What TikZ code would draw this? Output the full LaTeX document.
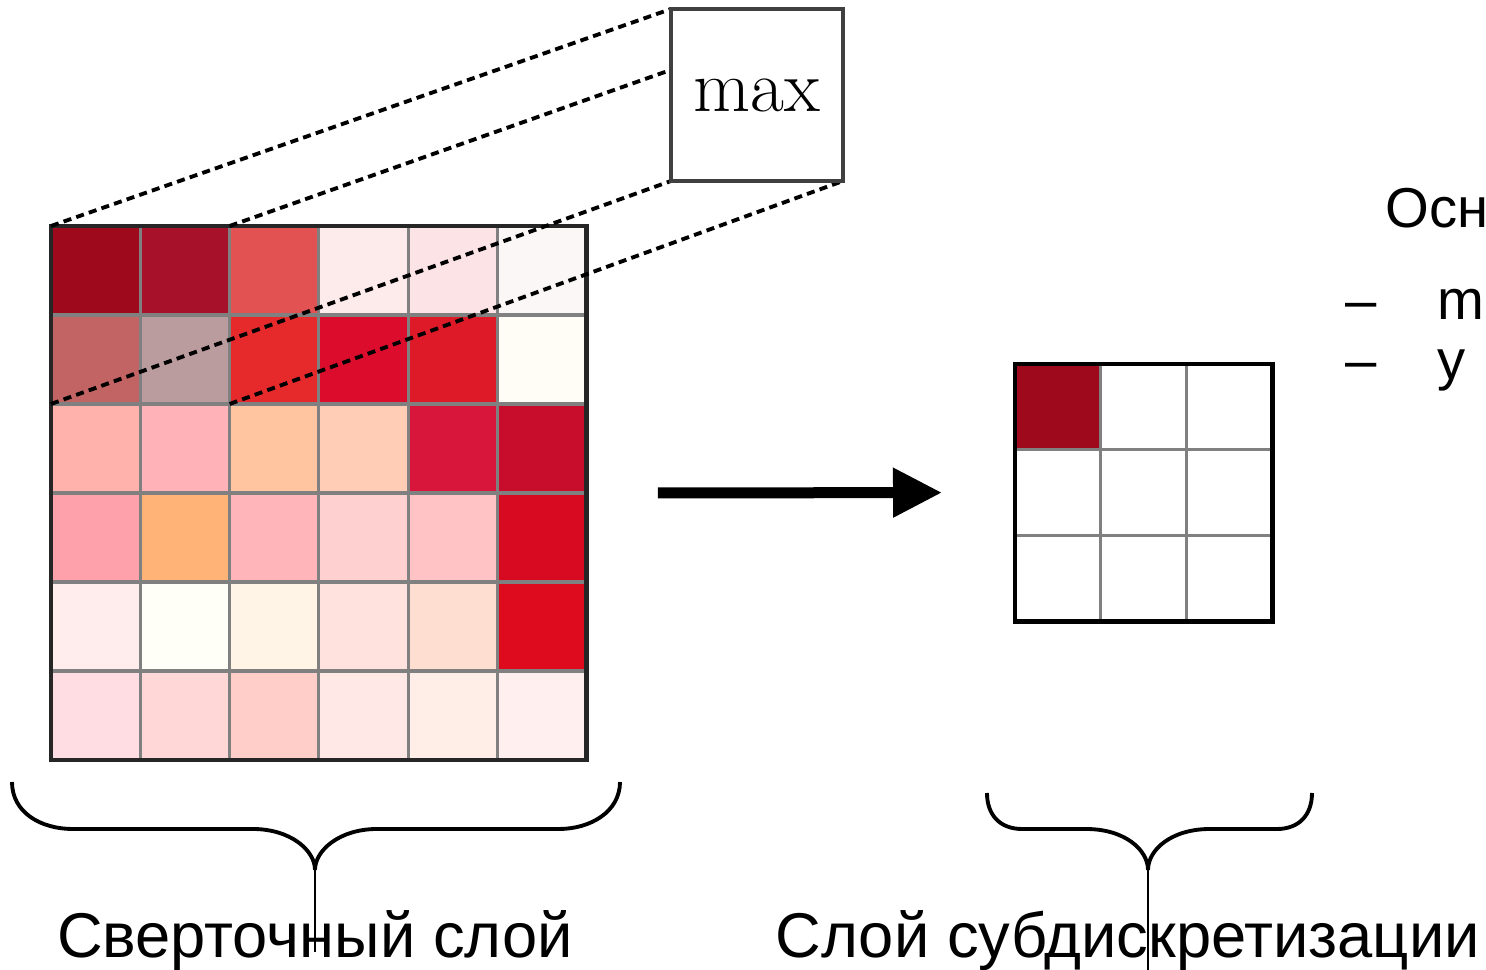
\documentclass[tikz,border=0pt]{standalone}
\usepackage{fontspec}
\setsansfont{Liberation Sans}
\usetikzlibrary{arrows.meta,fit,positioning}

\definecolor{maxred}{HTML}{9E0A1C}
\pgfdeclarelayer{front}
\pgfsetlayers{main,front}

\begin{document}
\begin{tikzpicture}[font=\sffamily,
    cell/.style={draw=gray, line width=0.9pt, minimum width=0.893cm, minimum height=0.89cm, inner sep=0pt, outer sep=0pt},
    pcell/.style={cell, minimum width=0.857cm, minimum height=0.857cm},
    frame/.style={draw=black!85, line width=1.4pt, inner sep=0pt, outer sep=0pt},
    proj/.style={dash pattern=on 2.3pt off 1.5pt, line width=1.1pt},
    bracepath/.style={line width=1.1pt},
    tail/.style={line width=0.4pt},
    caption/.style={font=\sffamily\fontsize{18}{22}\selectfont, anchor=base, inner sep=0pt},
    note/.style={font=\sffamily\fontsize{16}{19}\selectfont, anchor=base west, inner sep=0pt}]
    \useasboundingbox (0,0) rectangle (14.86,9.70);
    % Convolution layer, 6x6 feature map
    \foreach \hex [count=\i from 0] in {
        9E0A1C,A8112A,E35252,FDEAEB,FCE3E6,FCF7F7,
        C26464,BA9C9E,E62A2C,DC0C2C,DE1A28,FFFDF6,
        FFB2AB,FFB3B8,FFC4A0,FFCDB5,D8153A,C80C2C,
        FFA1AA,FFB377,FFB5B9,FFD0D0,FFC3C5,D80A22,
        FFEDEE,FFFEF7,FFF4E5,FFE1DE,FFDED2,DE0A1E,
        FFDDE2,FFD7D7,FFCEC9,FFE8E6,FFEEE8,FFEFEF} {
        \pgfmathtruncatemacro{\r}{\i/6+1}
        \pgfmathtruncatemacro{\c}{mod(\i,6)+1}
        \definecolor{cellc}{HTML}{\hex}
        \node[cell, fill=cellc] (c\r\c) at ({0.51+0.893*(\c-0.5)}, {7.44-0.89*(\r-0.5)}) {};
    }
    \node[frame, fit=(c11) (c66)] (conv) {};
    % max operation
    \begin{pgfonlayer}{front}
        \node[draw=black!75, line width=0.9pt, fill=white, minimum size=1.72cm, outer sep=0pt,
              font=\rmfamily\fontsize{21}{25}\selectfont] (maxbox) at (7.57,8.75) {max};
    \end{pgfonlayer}
    \draw[proj] (c11.north west) -- (maxbox.north west);
    \draw[proj] (c12.north east) -- (maxbox.north east);
    \draw[proj] (c21.south west) -- (maxbox.south west);
    \draw[proj] (c22.south east) -- (maxbox.south east);
    % Pooling layer, 3x3
    \foreach \r in {1,2,3}
        \foreach \c in {1,2,3}
            \node[pcell, fill=white] (p\r\c) at ({10.15+0.857*(\c-0.5)}, {6.06-0.857*(\r-0.5)}) {};
    \node[pcell, fill=maxred] (pmax) at (p11) {};
    \node[frame, draw=black, fit=(p11) (p33)] (pool) {};
    % Arrow
    \draw[-{Triangle[length=0.49cm,width=0.47cm]}, line width=0.11cm, shorten <=0.71cm, shorten >=0.73cm] (conv.east) -- (pool.west);
    % Braces
    \draw[bracepath] (0.12,1.88) .. controls (0.12,1.58) and (0.40,1.41) .. (0.73,1.41) -- (2.53,1.41)
        .. controls (2.90,1.41) and (3.15,1.20) .. (3.15,1.00) coordinate (convtip)
        .. controls (3.15,1.20) and (3.40,1.41) .. (3.77,1.41) -- (5.59,1.41)
        .. controls (5.90,1.41) and (6.20,1.58) .. (6.20,1.88);
    \draw[bracepath] (9.87,1.77) .. controls (9.87,1.55) and (10.00,1.41) .. (10.22,1.41) -- (10.86,1.41)
        .. controls (11.25,1.41) and (11.48,1.20) .. (11.48,1.00) coordinate (pooltip)
        .. controls (11.48,1.20) and (11.71,1.41) .. (12.10,1.41) -- (12.77,1.41)
        .. controls (12.99,1.41) and (13.12,1.55) .. (13.12,1.77);
    % Captions
    \node[caption] (convcap) at (3.15,0.12) {Сверточный слой};
    \node[caption, anchor=base west] (poolcap) at (7.75,0.12) {Слой субдискретизации};
    \draw[tail] (convtip) -- (convtip |- 0,0.18);
    \draw[tail] (pooltip) -- (pooltip |- 0,0);
    % Notes
    \node[note] (notehead) at (13.85,7.42) {Осн};
    \node[note] (noteone) at (13.45,6.50) {\makebox[0.92cm][l]{–}m};
    \node[note] (notetwo) at (13.45,5.90) {\makebox[0.92cm][l]{–}у};
\end{tikzpicture}
\end{document}
